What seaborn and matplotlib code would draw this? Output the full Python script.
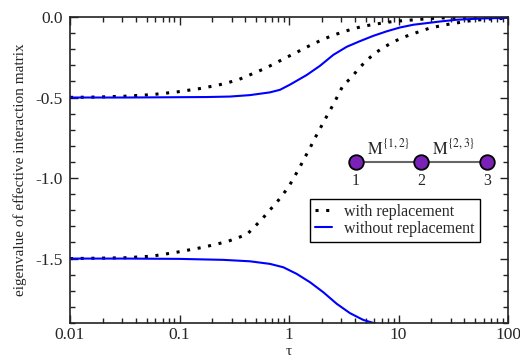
import numpy as np
import pandas as pd
import matplotlib
matplotlib.use("Agg")
import matplotlib.pyplot as plt
import seaborn as sns
from matplotlib.ticker import MultipleLocator, LogLocator, FixedLocator, FixedFormatter

# log10(tau) positions and eigenvalues
up_dot_logtau = [-2.0, -1.75, -1.5, -1.25, -1.02, -0.8, -0.63, -0.472, -0.381, -0.289, -0.204,
                 -0.119, -0.030, 0.055, 0.140, 0.228, 0.313, 0.405, 0.496, 0.587, 0.679,
                 0.770, 0.861, 0.953, 1.059, 1.151, 1.258, 1.349, 1.5, 1.7, 2.0]
up_dot_val = [-0.499, -0.497, -0.492, -0.482, -0.465, -0.443, -0.420, -0.392, -0.366, -0.340,
              -0.314, -0.285, -0.253, -0.225, -0.194, -0.165, -0.138, -0.113, -0.092, -0.073,
              -0.057, -0.047, -0.036, -0.028, -0.022, -0.017, -0.011, -0.007, -0.004, -0.002,
              0.0]

low_dot_logtau = [-2.0, -1.5, -1.25, -1.02, -0.785, -0.566, -0.384, -0.311, -0.240, -0.180,
                  -0.119, -0.058, 0.0, 0.046, 0.094, 0.137, 0.185, 0.228, 0.274, 0.320,
                  0.365, 0.411, 0.493, 0.573, 0.633, 0.703, 0.776, 0.852, 0.938, 1.023,
                  1.111, 1.203, 1.294, 1.385, 1.479, 1.577, 1.668, 1.769, 1.866, 2.0]
low_dot_val = [-1.500, -1.495, -1.485, -1.460, -1.430, -1.395, -1.350, -1.300, -1.250, -1.202,
               -1.157, -1.104, -1.051, -0.995, -0.939, -0.881, -0.823, -0.763, -0.705, -0.647,
               -0.591, -0.535, -0.425, -0.374, -0.322, -0.274, -0.229, -0.194, -0.160, -0.132,
               -0.109, -0.088, -0.067, -0.055, -0.042, -0.032, -0.022, -0.016, -0.011, -0.008]

up_line_logtau = [-2.0, -1.5, -1.0, -0.75, -0.539, -0.356, -0.174, -0.082, 0.009, 0.162,
                  0.283, 0.405, 0.527, 0.648, 0.770, 0.892, 1.014, 1.136, 1.258, 1.379,
                  1.532, 1.772, 2.0]
up_line_val = [-0.500, -0.500, -0.498, -0.497, -0.494, -0.485, -0.468, -0.452, -0.420, -0.360,
               -0.303, -0.235, -0.185, -0.150, -0.117, -0.089, -0.065, -0.048, -0.038, -0.028,
               -0.017, -0.009, -0.005]

low_line_logtau = [-2.0, -1.5, -1.0, -0.6, -0.356, -0.174, -0.052, 0.070, 0.192, 0.313,
                   0.436, 0.557, 0.678, 0.801, 0.9]
low_line_val = [-1.500, -1.500, -1.502, -1.508, -1.517, -1.533, -1.554, -1.595, -1.647, -1.709,
                -1.781, -1.839, -1.881, -1.906, -1.950]

x_ticks = [0.01, 0.1, 1, 10, 100]
x_tick_labels = ["0.01", "0.1", "1", "10", "100"]
y_ticks = [0.0, -0.5, -1.0, -1.5]
y_tick_labels = ["0.0", "-0.5", "-1.0", "-1.5"]
node_labels = ["1", "2", "3"]
edge_labels = [r"$\mathrm{M}^{\{1,2\}}$", r"$\mathrm{M}^{\{2,3\}}$"]


def frame(logtau, val):
    return pd.DataFrame({"tau": np.power(10.0, logtau), "val": val})


sns.set_style("ticks")
plt.rcParams["font.family"] = ["Liberation Serif", "DejaVu Serif"]
plt.rcParams["mathtext.fontset"] = "stix"

fig = plt.figure(figsize=(5.2, 3.6), dpi=100)
ax = fig.add_axes([0.1346, 0.1028, 0.977 - 0.1346, 0.9528 - 0.1028])

dot_style = dict(color="black", linewidth=2.2, linestyle=(0, (1, 2.5)), estimator=None)
line_style = dict(color="#0000ff", linewidth=1.5, estimator=None)

sns.lineplot(data=frame(up_dot_logtau, up_dot_val), x="tau", y="val", ax=ax,
             label="with replacement", **dot_style)
sns.lineplot(data=frame(low_dot_logtau, low_dot_val), x="tau", y="val", ax=ax,
             label="_nolegend_", **dot_style)
sns.lineplot(data=frame(up_line_logtau, up_line_val), x="tau", y="val", ax=ax,
             label="without replacement", **line_style)
sns.lineplot(data=frame(low_line_logtau, low_line_val), x="tau", y="val", ax=ax,
             label="_nolegend_", **line_style)

ax.set_xscale("log")
ax.set_xlim(0.01, 100)
ax.set_ylim(-1.9, 0.0)
ax.xaxis.set_major_locator(FixedLocator(x_ticks))
ax.xaxis.set_major_formatter(FixedFormatter(x_tick_labels))
ax.xaxis.set_minor_locator(LogLocator(base=10, subs=np.arange(2, 10)))
ax.xaxis.set_minor_formatter(FixedFormatter([]))
ax.yaxis.set_major_locator(FixedLocator(y_ticks))
ax.yaxis.set_major_formatter(FixedFormatter(y_tick_labels))
ax.yaxis.set_minor_locator(MultipleLocator(0.1))
ax.tick_params(which="both", direction="in", top=True, right=True, labelsize=12.5,
               width=1, color="#222222")
ax.tick_params(which="major", length=6)
ax.tick_params(which="minor", length=3.5)
ax.tick_params(axis="x", which="major", pad=3)
ax.tick_params(axis="y", which="major", pad=5)
for s in ax.spines.values():
    s.set_linewidth(1.2)
    s.set_color("#222222")

ax.set_xlabel("τ", fontsize=11)
ax.xaxis.label.set_va("baseline")
ax.xaxis.set_label_coords(0.5, -0.103)
ax.set_ylabel("eigenvalue of effective interaction matrix", fontsize=11, labelpad=6)

leg = ax.legend(loc="lower left", bbox_to_anchor=(0.548, 0.266), borderaxespad=0,
                fancybox=False, edgecolor="black", framealpha=1, fontsize=11.5,
                handlelength=1.05, borderpad=0.3, labelspacing=0.05, handletextpad=0.8)
leg.get_frame().set_linewidth(1.0)

# inset chain diagram 1 - 2 - 3
node_x = [0.653, 0.801, 0.952]
node_y = 0.526
ax.plot(node_x, [node_y] * 3, color="#666666", lw=1.5, transform=ax.transAxes,
        zorder=4, clip_on=False)
ax.scatter(node_x, [node_y] * 3, s=110, color="#7a22b8", edgecolor="black",
           linewidth=1.3, transform=ax.transAxes, zorder=5, clip_on=False)
for xx, lab in zip(node_x, node_labels):
    ax.text(xx, node_y - 0.037, lab, transform=ax.transAxes, ha="center", va="top",
            fontsize=11.5)
for i, lab in enumerate(edge_labels):
    ax.text((node_x[i] + node_x[i + 1]) / 2, node_y + 0.012, lab, transform=ax.transAxes,
            ha="center", va="bottom", fontsize=12)

fig.savefig("out.png", dpi=100, facecolor="white")
